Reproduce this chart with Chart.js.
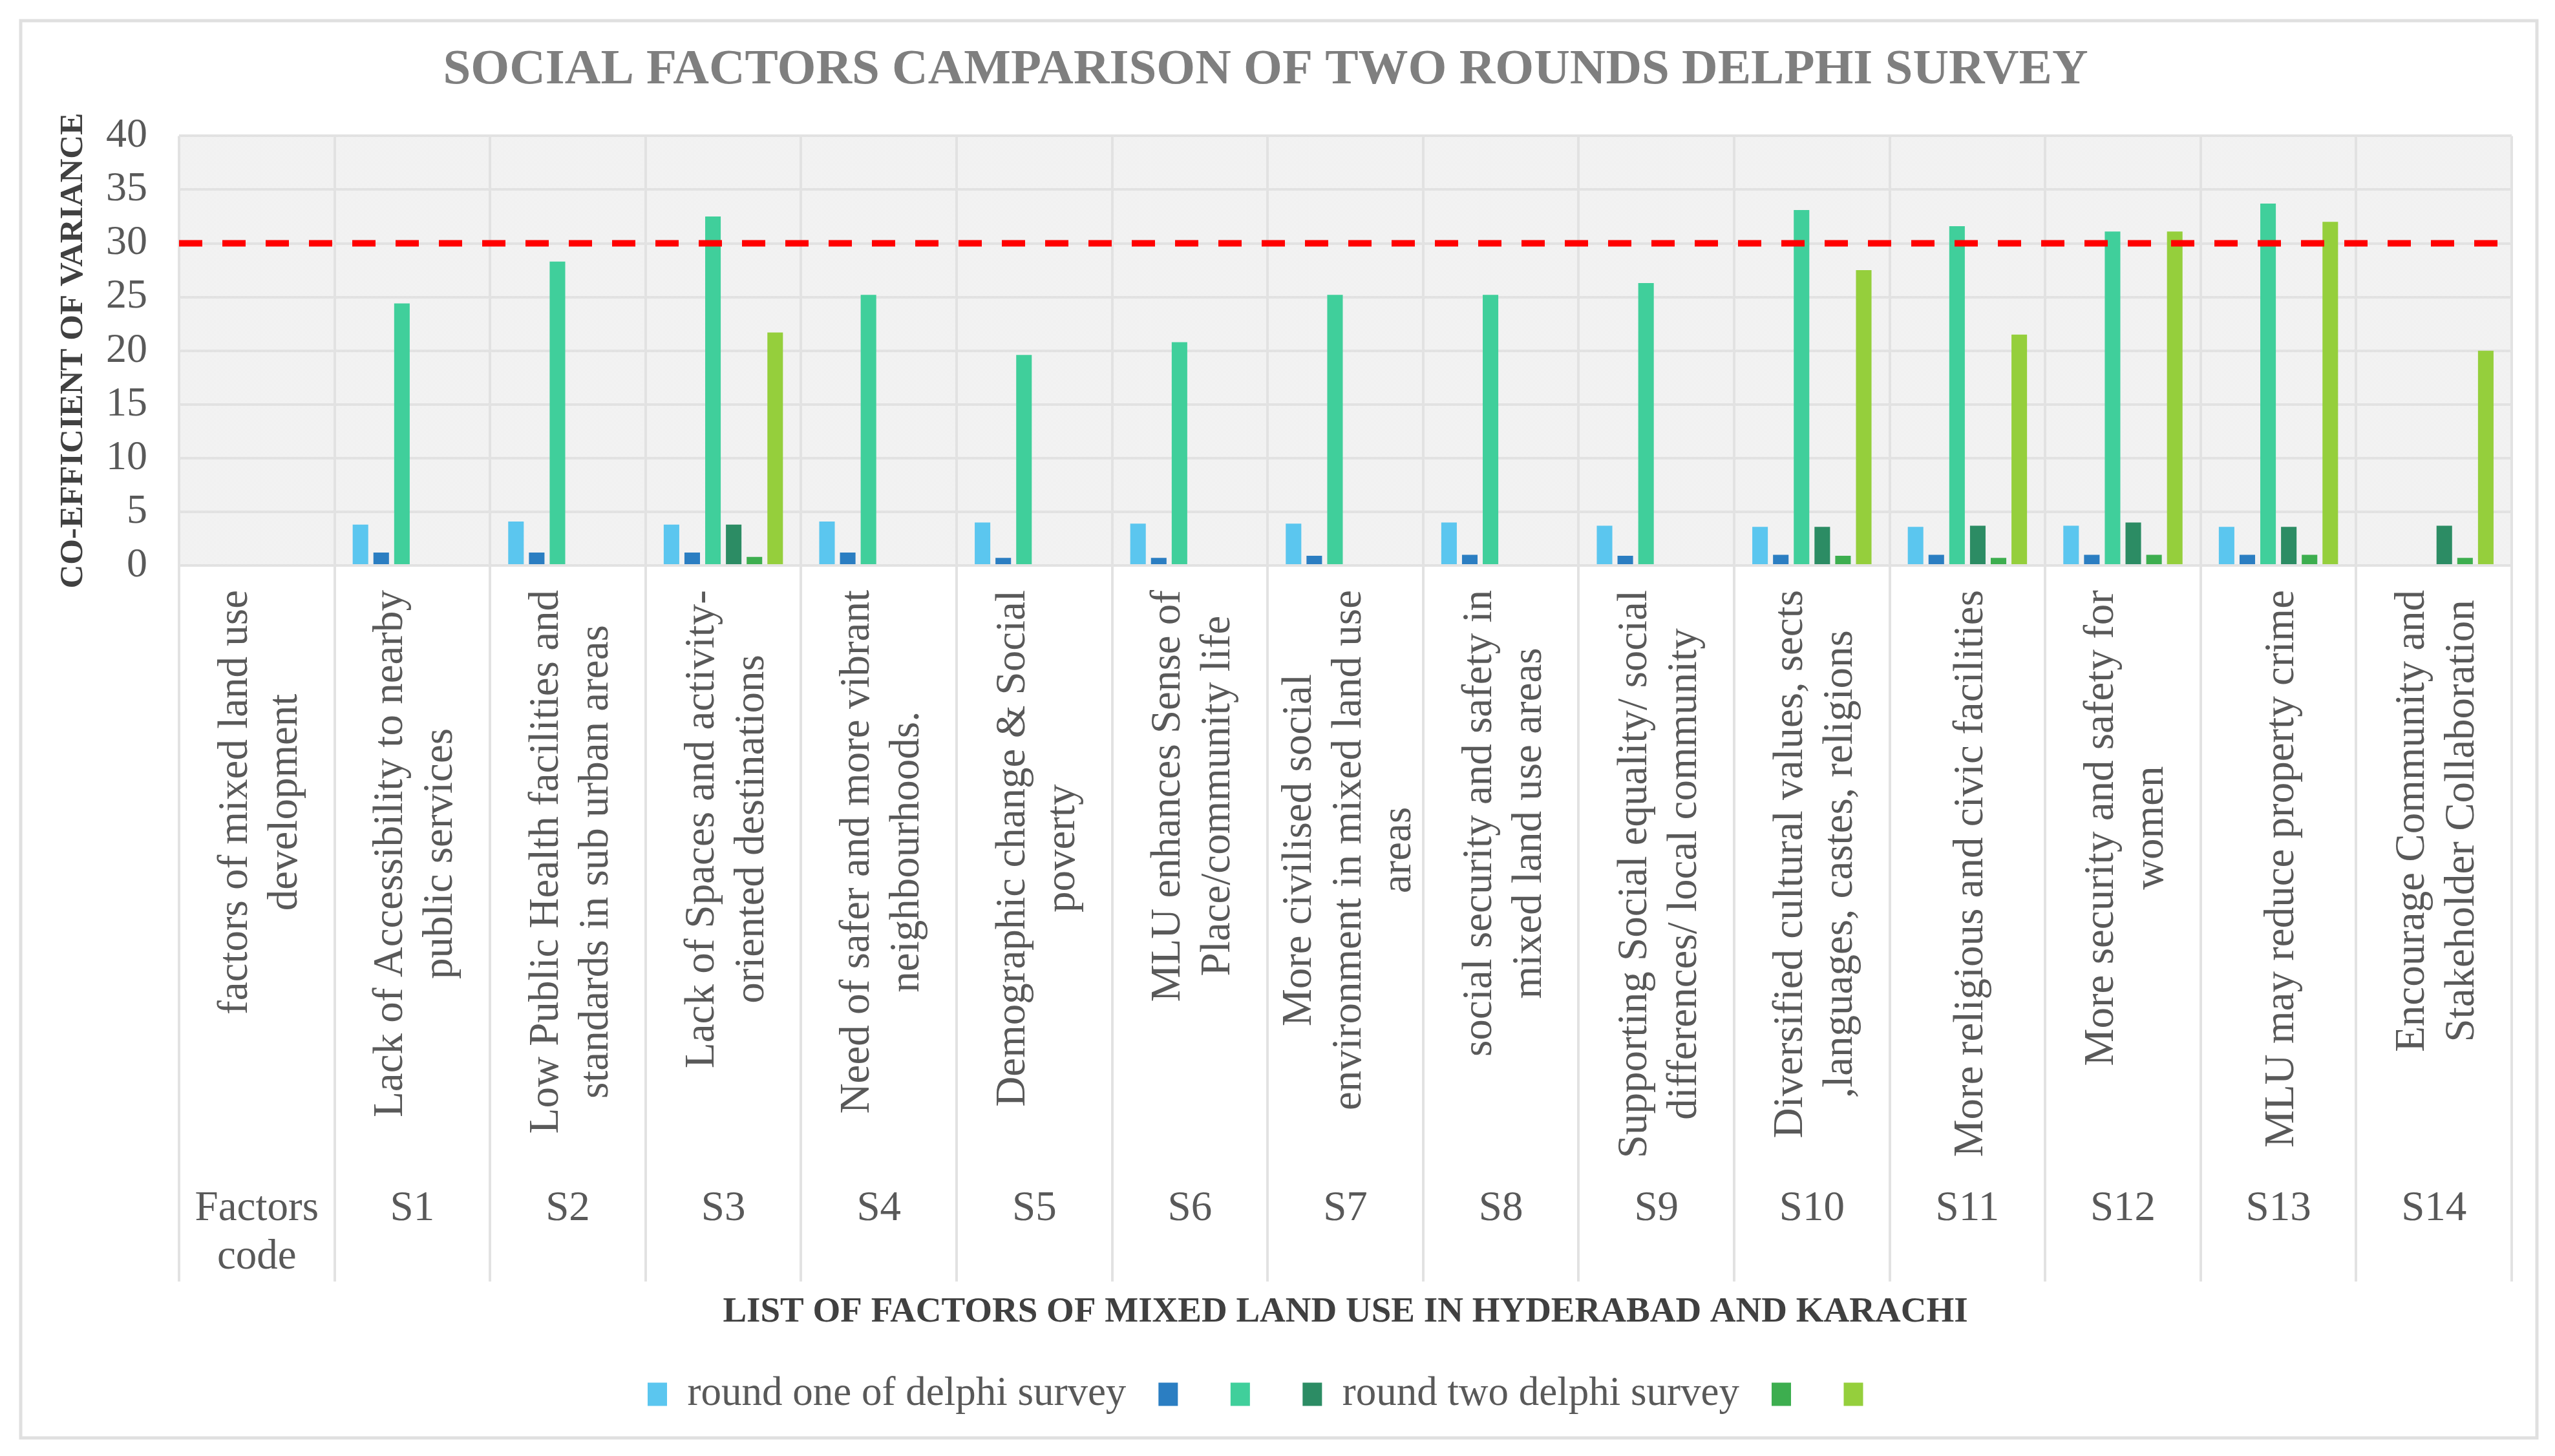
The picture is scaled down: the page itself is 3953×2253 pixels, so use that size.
<!DOCTYPE html>
<html>
<head>
<meta charset="utf-8">
<title>Social factors comparison of two rounds Delphi survey</title>
<script src="https://cdn.jsdelivr.net/npm/chart.js@4.4.1/dist/chart.umd.min.js"></script>
<style>
  html, body { margin: 0; padding: 0; background: #ffffff; }
  canvas { display: block; }
</style>
</head>
<body>
<canvas id="chart" width="3953" height="2253" style="width:3953px;height:2253px"></canvas>
<script>
// categories
const factorCodes = ['Factors code', 'S1', 'S2', 'S3', 'S4', 'S5', 'S6', 'S7', 'S8', 'S9', 'S10', 'S11', 'S12', 'S13', 'S14'];
const factorNames = [
  ['factors of mixed land use', 'development'],
  ['Lack of Accessibility to nearby', 'public services'],
  ['Low Public Health facilities and', 'standards in sub urban areas'],
  ['Lack of Spaces and activity-', 'oriented destinations'],
  ['Need of safer and more vibrant', 'neighbourhoods.'],
  ['Demographic change & Social', 'poverty'],
  ['MLU enhances Sense of', 'Place/community life'],
  ['More civilised social', 'environment in mixed land use', 'areas'],
  ['social security and safety in', 'mixed land use areas'],
  ['Supporting Social equality/ social', 'differences/ local community'],
  ['Diversified cultural values, sects', ',languages, castes, religions'],
  ['More religious and civic facilities'],
  ['More security and safety for', 'women'],
  ['MLU may reduce property crime'],
  ['Encourage Community and', 'Stakeholder Collaboration']
];

// series values
const roundOneA = [null, 3.8, 4.1, 3.8, 4.1, 4.0, 3.9, 3.9, 4.0, 3.7, 3.6, 3.6, 3.7, 3.6, null];
const roundOneB = [null, 1.2, 1.2, 1.2, 1.2, 0.7, 0.7, 0.9, 1.0, 0.9, 1.0, 1.0, 1.0, 1.0, null];
const roundOneC = [null, 24.4, 28.3, 32.5, 25.2, 19.6, 20.8, 25.2, 25.2, 26.3, 33.1, 31.6, 31.1, 33.7, null];
const roundTwoA = [null, null, null, 3.8, null, null, null, null, null, null, 3.6, 3.7, 4.0, 3.6, 3.7];
const roundTwoB = [null, null, null, 0.8, null, null, null, null, null, null, 0.9, 0.7, 1.0, 1.0, 0.7];
const roundTwoC = [null, null, null, 21.7, null, null, null, null, null, null, 27.5, 21.5, 31.1, 32.0, 20.0];

const seriesNames = ['round one of delphi survey', '', '', 'round two delphi survey', '', ''];
const seriesColors = ['#5BC6EF', '#2B7EC2', '#40CF9B', '#2C8C64', '#3DAE4F', '#95CF3C'];

// y ticks
const yMin = 0, yMax = 40, yStep = 5;
const thresholdValue = 30;

Chart.defaults.font.family = "'Liberation Serif', 'Times New Roman', serif";
Chart.defaults.color = '#595959';

// dotted plot background like the original
function makePattern() {
  const c = document.createElement('canvas');
  c.width = 2; c.height = 2;
  const g = c.getContext('2d');
  g.fillStyle = '#fbfbfb'; g.fillRect(0, 0, 2, 2);
  g.fillStyle = '#e8e8e8'; g.fillRect(0, 0, 1, 1); g.fillRect(1, 1, 1, 1);
  return g.createPattern(c, 'repeat');
}

const backdrop = {
  id: 'backdrop',
  beforeDraw(chart) {
    const { ctx, chartArea: a } = chart;
    ctx.save();
    ctx.fillStyle = '#ffffff';
    ctx.fillRect(0, 0, chart.width, chart.height);
    ctx.strokeStyle = '#e0e0e0';
    ctx.lineWidth = 5;
    ctx.strokeRect(32, 32, chart.width - 60, chart.height - 60);
    ctx.fillStyle = makePattern();
    ctx.fillRect(a.left, a.top, a.right - a.left, a.bottom - a.top);
    ctx.restore();
  }
};

const thresholdLine = {
  id: 'thresholdLine',
  afterDatasetsDraw(chart) {
    const { ctx, chartArea: a, scales: { y } } = chart;
    const py = y.getPixelForValue(thresholdValue);
    ctx.save();
    ctx.strokeStyle = '#FF0000';
    ctx.lineWidth = 10;
    ctx.setLineDash([36, 31]);
    ctx.beginPath();
    ctx.moveTo(a.left, py);
    ctx.lineTo(a.right + 8, py);
    ctx.stroke();
    ctx.restore();
  }
};

// two-level category labels: rotated description + factor code
const factorLabels = {
  id: 'factorLabels',
  afterDraw(chart) {
    const { ctx, chartArea: a, scales: { x } } = chart;
    ctx.save();
    ctx.fillStyle = '#595959';
    ctx.font = "65px 'Liberation Serif', 'Times New Roman', serif";
    ctx.textAlign = 'center';
    ctx.textBaseline = 'middle';
    factorNames.forEach((lines, i) => {
      const cx = x.getPixelForValue(i);
      const widest = Math.max(...lines.map(l => ctx.measureText(l).width));
      ctx.save();
      ctx.translate(cx + 6, a.bottom + 38 + widest / 2);
      ctx.rotate(-Math.PI / 2);
      lines.forEach((line, k) => {
        ctx.fillText(line, 0, (k - (lines.length - 1) / 2) * 77);
      });
      ctx.restore();
      const codeLines = factorCodes[i].split(' ');
      codeLines.forEach((t, k) => {
        ctx.fillText(t, cx, a.bottom + 996 + k * 75);
      });
    });
    ctx.restore();
  }
};

const allSeries = [roundOneA, roundOneB, roundOneC, roundTwoA, roundTwoB, roundTwoC];

new Chart(document.getElementById('chart'), {
  type: 'bar',
  data: {
    labels: factorCodes,
    datasets: allSeries.map((vals, i) => ({
      label: seriesNames[i],
      data: vals,
      backgroundColor: seriesColors[i],
      borderWidth: 0,
      categoryPercentage: 0.8,
      barPercentage: 0.75
    }))
  },
  options: {
    responsive: false,
    devicePixelRatio: 1,
    animation: false,
    layout: { padding: { left: 30, right: 67, top: 30, bottom: 54 } },
    plugins: {
      tooltip: { enabled: false },
      title: {
        display: true,
        text: 'SOCIAL FACTORS CAMPARISON OF TWO ROUNDS DELPHI SURVEY',
        color: '#7f7f7f',
        font: { size: 77, weight: 'bold' },
        padding: { top: 33, bottom: 55 }
      },
      legend: {
        position: 'bottom',
        labels: {
          color: '#595959',
          font: { size: 63 },
          boxWidth: 30,
          boxHeight: 36,
          padding: 50
        }
      }
    },
    scales: {
      x: {
        ticks: { display: false },
        grid: { color: '#e2e2e2', lineWidth: 4, tickLength: 1108, offset: true },
        border: { display: true, color: '#e2e2e2', width: 4 },
        title: {
          display: true,
          text: 'LIST OF FACTORS OF MIXED LAND USE IN HYDERABAD AND KARACHI',
          color: '#404040',
          font: { size: 55, weight: 'bold' },
          padding: { top: 15, bottom: 12 }
        }
      },
      y: {
        min: yMin,
        max: yMax,
        ticks: { stepSize: yStep, padding: 49, color: '#595959', font: { size: 64 } },
        grid: { color: '#e2e2e2', lineWidth: 4, drawTicks: false },
        border: { display: false },
        title: {
          display: true,
          text: 'CO-EFFICIENT OF VARIANCE',
          color: '#404040',
          font: { size: 51, weight: 'bold' },
          padding: { top: 53, bottom: 0 }
        },
        afterFit(scale) { scale.width = 247; }
      }
    }
  },
  plugins: [backdrop, thresholdLine, factorLabels]
});
</script>
</body>
</html>
